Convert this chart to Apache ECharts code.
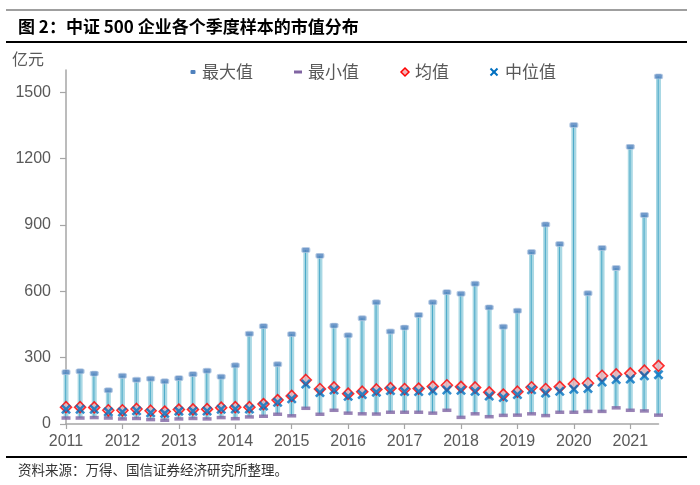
<!DOCTYPE html>
<html>
<head>
<meta charset="utf-8">
<script src="https://cdn.jsdelivr.net/npm/echarts@6/dist/echarts.min.js"></script>
<style>
html,body{margin:0;padding:0;background:#fff;}
#c{width:700px;height:485px;}
</style>
</head>
<body>
<div id="c"></div>
<script>
const quarters = ['2011Q1','2011Q2','2011Q3','2011Q4','2012Q1','2012Q2','2012Q3','2012Q4',
  '2013Q1','2013Q2','2013Q3','2013Q4','2014Q1','2014Q2','2014Q3','2014Q4',
  '2015Q1','2015Q2','2015Q3','2015Q4','2016Q1','2016Q2','2016Q3','2016Q4',
  '2017Q1','2017Q2','2017Q3','2017Q4','2018Q1','2018Q2','2018Q3','2018Q4',
  '2019Q1','2019Q2','2019Q3','2019Q4','2020Q1','2020Q2','2020Q3','2020Q4',
  '2021Q1','2021Q2','2021Q3'];
const maxVals = [234,238,228,152,218,200,205,193,207,225,241,214,265,408,442,270,406,787,760,445,401,478,550,418,436,493,550,596,589,634,527,440,512,777,902,813,1351,591,796,705,1253,945,1571];
const minVals = [27,27,29,27,23,25,20,17,23,25,23,29,24,32,35,44,37,71,44,62,49,46,45,53,53,53,49,62,30,46,33,39,40,46,38,53,53,57,57,73,62,59,40];
const meanVals = [76,76,75,62,62,68,60,56,65,66,67,74,76,76,90,108,127,199,158,165,137,146,156,162,158,160,169,175,168,165,143,133,146,166,158,168,181,184,218,224,229,241,263];
const medianVals = [67,67,67,55,54,60,51,48,58,58,59,67,68,68,81,98,114,181,142,154,125,133,144,151,147,147,150,154,152,148,126,120,133,155,140,148,157,161,190,201,203,218,223];
const yTicks = [0,300,600,900,1200,1500];
const seriesNames = ['最大值','最小值','均值','中位值'];
const titleText = '图 2：中证 500 企业各个季度样本的市值分布';
const unitText = '亿元';
const sourceText = '资料来源：万得、国信证券经济研究所整理。';

const crossPath = 'path://M0,1.8L1.8,0L5,3.2L8.2,0L10,1.8L6.8,5L10,8.2L8.2,10L5,6.8L1.8,10L0,8.2L3.2,5Z';
const rangeData = quarters.map((q, i) => [i, minVals[i], maxVals[i]]);

const chart = echarts.init(document.getElementById('c'), null, {renderer: 'canvas'});
const legendFont = '17px "Noto Sans CJK SC", sans-serif';
const legendColor = '#595959';

function txt(x, y, text, font, fill) {
  return {type: 'text', style: {x: x, y: y, text: text, font: font, fill: fill, verticalAlign: 'middle', align: 'left'}};
}

chart.setOption({
  animation: false,
  backgroundColor: '#fff',
  grid: {left: 66, right: 41.5, top: 70, bottom: 61, containLabel: false},
  xAxis: {
    type: 'category',
    data: quarters,
    boundaryGap: false,
    axisLine: {lineStyle: {color: '#a6a6a6', width: 1.5}},
    axisTick: {show: true, interval: 3, length: 5, lineStyle: {color: '#a6a6a6', width: 1.2}},
    axisLabel: {
      interval: 3, margin: 10,
      formatter: v => v.slice(0, 4),
      color: '#595959', fontSize: 16, fontFamily: '"Liberation Sans", Arial, sans-serif'
    },
    splitLine: {show: false}
  },
  yAxis: {
    type: 'value',
    min: 0, max: 1600,
    axisLine: {show: true, lineStyle: {color: '#a6a6a6', width: 1.5}},
    axisTick: {show: true, length: 6, customValues: yTicks, lineStyle: {color: '#a6a6a6', width: 1.2}},
    axisLabel: {
      customValues: yTicks, margin: 15,
      formatter: v => String(v),
      color: '#595959', fontSize: 16, fontFamily: '"Liberation Sans", Arial, sans-serif'
    },
    splitLine: {show: false}
  },
  series: [
    {
      type: 'custom',
      name: 'range',
      data: rangeData,
      encode: {x: 0, y: [1, 2]},
      z: 1,
      silent: true,
      renderItem: function (params, api) {
        const lo = api.coord([api.value(0), api.value(1)]);
        const hi = api.coord([api.value(0), api.value(2)]);
        return {
          type: 'group',
          children: [
            {type: 'rect', shape: {x: lo[0] - 2.5, y: hi[1], width: 5, height: lo[1] - hi[1]},
             style: {fill: '#a9d8e4'}},
            {type: 'line', shape: {x1: lo[0] - 0.3, y1: hi[1], x2: lo[0] - 0.3, y2: lo[1]},
             style: {stroke: '#4aa9c8', lineWidth: 1}}
          ]
        };
      }
    },
    {
      type: 'scatter', name: seriesNames[1], data: minVals, z: 2,
      symbol: 'rect', symbolSize: [9, 3.5],
      itemStyle: {color: '#8064a2'}
    },
    {
      type: 'scatter', name: seriesNames[0], data: maxVals, z: 3,
      symbol: 'roundRect', symbolSize: [8, 5],
      itemStyle: {color: '#4f81bd', borderColor: '#b9cde5', borderWidth: 1}
    },
    {
      type: 'scatter', name: seriesNames[2], data: meanVals, z: 4,
      symbol: 'diamond', symbolSize: 11,
      itemStyle: {color: '#f3b5b8', borderColor: '#ff0000', borderWidth: 1.6}
    },
    {
      type: 'scatter', name: seriesNames[3], data: medianVals, z: 5,
      symbol: crossPath, symbolSize: 10,
      itemStyle: {color: '#0070c0'}
    }
  ],
  graphic: [
    {type: 'line', shape: {x1: 6, y1: 10, x2: 687, y2: 10}, style: {stroke: '#7f7f7f', lineWidth: 1.5}},
    {type: 'line', shape: {x1: 6, y1: 42, x2: 687, y2: 42}, style: {stroke: '#000', lineWidth: 1.8}},
    {type: 'line', shape: {x1: 6, y1: 457, x2: 687, y2: 457}, style: {stroke: '#000', lineWidth: 1.8}},
    txt(18, 27, titleText, 'bold 17px "Noto Sans CJK SC", sans-serif', '#000'),
    txt(12, 59, unitText, '16px "Noto Sans CJK SC", sans-serif', '#595959'),
    txt(18, 470, sourceText, '13.5px "Noto Sans CJK SC", sans-serif', '#333'),
    {type: 'rect', shape: {x: 190.5, y: 70, width: 5, height: 4, r: 1}, style: {fill: '#4f81bd'}},
    txt(202, 72, seriesNames[0], legendFont, legendColor),
    {type: 'rect', shape: {x: 294, y: 70.5, width: 8, height: 3}, style: {fill: '#8064a2'}},
    txt(308, 72, seriesNames[1], legendFont, legendColor),
    {type: 'polygon', shape: {points: [[405, 68], [409, 72], [405, 76], [401, 72]]},
     style: {fill: '#f3b5b8', stroke: '#ff0000', lineWidth: 1.5}},
    txt(415, 72, seriesNames[2], legendFont, legendColor),
    {type: 'line', shape: {x1: 490.5, y1: 68.5, x2: 497.5, y2: 75.5}, style: {stroke: '#0070c0', lineWidth: 2}},
    {type: 'line', shape: {x1: 497.5, y1: 68.5, x2: 490.5, y2: 75.5}, style: {stroke: '#0070c0', lineWidth: 2}},
    txt(505, 72, seriesNames[3], legendFont, legendColor)
  ]
});
</script>
</body>
</html>
